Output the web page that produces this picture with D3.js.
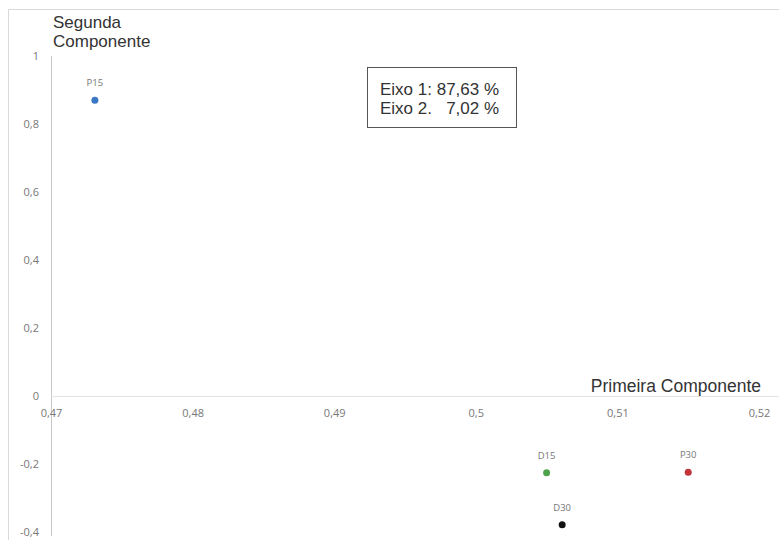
<!DOCTYPE html>
<html>
<head>
<meta charset="utf-8">
<script src="https://cdn.jsdelivr.net/npm/d3@7"></script>
<style>
  body { margin: 0; background: #fff; }
  svg { display: block; }
</style>
</head>
<body>
<div id="chart"></div>
<script>
// data
var labels = ["P15", "D15", "P30", "D30"];
var primeira = [0.4731, 0.5050, 0.5150, 0.5061];
var segunda = [0.87, -0.226, -0.224, -0.379];
var colors = ["#3b78c3", "#4ea24a", "#c2343a", "#111111"];
var xTicks = [0.47, 0.48, 0.49, 0.5, 0.51, 0.52];
var yTicks = [-0.4, -0.2, 0, 0.2, 0.4, 0.6, 0.8, 1];
var legendLines = ["Eixo 1: 87,63 %", "Eixo 2.\u00a0\u00a0 7,02 %"];

var svgWidth = 779, svgHeight = 540;

var svg = d3.select("#chart").append("svg")
  .attr("width", svgWidth)
  .attr("height", svgHeight);

// outer frame (only left and top visible)
svg.append("line").attr("x1", 8.5).attr("x2", 8.5).attr("y1", 9.5).attr("y2", 540)
  .attr("stroke", "#d9d9d9");
svg.append("line").attr("x1", 8.5).attr("x2", 779).attr("y1", 9.5).attr("y2", 9.5)
  .attr("stroke", "#d9d9d9");

var x = d3.scaleLinear().domain([0.47, 0.52]).range([51, 759]);
var y = d3.scaleLinear().domain([-0.4, 1]).range([532, 56]);

var fmt = function(d) { return String(+d.toFixed(2)).replace(".", ","); };

// y axis
var yAxis = svg.append("g")
  .attr("transform", "translate(" + x(0.47) + ",0)")
  .call(d3.axisLeft(y).tickValues(yTicks).tickSize(0).tickPadding(12).tickFormat(fmt));
yAxis.select(".domain").attr("stroke", "#c8c8c8").attr("d", "M0.5," + y(1) + "V536");
yAxis.selectAll("text")
  .attr("fill", "#777")
  .style("font-family", "'Open Sans', sans-serif")
  .style("font-size", "11px");

// x axis along zero
var xAxis = svg.append("g")
  .attr("transform", "translate(0," + Math.round(y(0)) + ".5)")
  .call(d3.axisBottom(x).tickValues(xTicks).tickSize(0).tickPadding(13).tickFormat(fmt));
xAxis.select(".domain").attr("stroke", "#e3e3e3").attr("d", "M" + x(0.47) + ",0H779");
xAxis.selectAll("text")
  .attr("fill", "#777")
  .style("font-family", "'Open Sans', sans-serif")
  .style("font-size", "11px");

// axis titles
var ytitle = svg.append("text")
  .attr("x", 53)
  .attr("y", 28)
  .attr("fill", "#333")
  .style("font-family", "'Liberation Sans', Arial, sans-serif")
  .style("font-size", "17px");
ytitle.append("tspan").attr("x", 53).text("Segunda");
ytitle.append("tspan").attr("x", 53).attr("dy", 19).text("Componente");

svg.append("text")
  .attr("x", 761)
  .attr("y", 392)
  .attr("text-anchor", "end")
  .attr("fill", "#333")
  .style("font-family", "'Liberation Sans', Arial, sans-serif")
  .style("font-size", "17.5px")
  .text("Primeira Componente");

// points
var pts = svg.append("g").selectAll("g")
  .data(labels)
  .enter()
  .append("g");

pts.append("circle")
  .attr("cx", (d, i) => x(primeira[i]))
  .attr("cy", (d, i) => y(segunda[i]))
  .attr("r", 3.5)
  .attr("fill", (d, i) => colors[i]);

pts.append("text")
  .attr("x", (d, i) => x(primeira[i]))
  .attr("y", (d, i) => y(segunda[i]) - 14)
  .attr("text-anchor", "middle")
  .attr("fill", "#777")
  .style("font-family", "'Open Sans', sans-serif")
  .style("font-size", "9.5px")
  .text(d => d);

// legend box
svg.append("rect")
  .attr("x", 367.5).attr("y", 67.5)
  .attr("width", 149).attr("height", 60)
  .attr("fill", "#fff")
  .attr("stroke", "#555");

svg.append("g").selectAll("text")
  .data(legendLines)
  .enter()
  .append("text")
  .attr("x", 380)
  .attr("y", (d, i) => 95 + i * 19)
  .attr("fill", "#333")
  .style("font-family", "'Liberation Sans', Arial, sans-serif")
  .style("font-size", "17px")
  .text(d => d);
</script>
</body>
</html>
